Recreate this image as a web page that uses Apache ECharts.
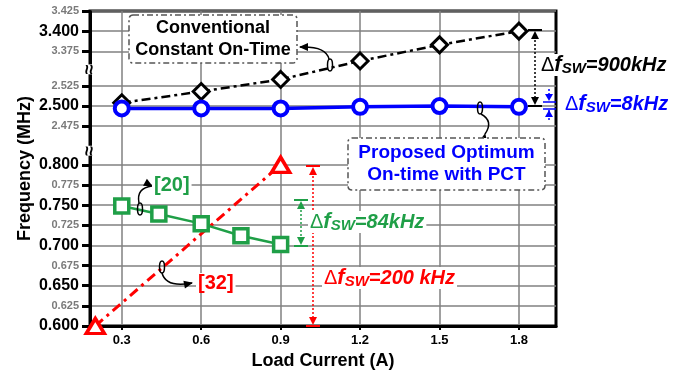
<!DOCTYPE html>
<html>
<head>
<meta charset="utf-8">
<script src="https://cdn.jsdelivr.net/npm/echarts@6.0.0/dist/echarts.min.js"></script>
<style>
html, body { margin: 0; padding: 0; background: #fff; }
#chart { width: 697px; height: 373px; }
</style>
</head>
<body>
<div id="chart"></div>
<script>
// axis ticks
const loadTicks = [0.3, 0.6, 0.9, 1.2, 1.5, 1.8]
const freqTicks = [0.6, 0.625, 0.65, 0.675, 0.7, 0.725, 0.75, 0.775, 0.8, 2.475, 2.5, 2.525, 3.375, 3.4, 3.425]
const boldTicks = [0.6, 0.65, 0.7, 0.75, 0.8, 2.5, 3.4]

// series (load current A / frequency MHz)
const convLoad = [0.3, 0.6, 0.9, 1.2, 1.5, 1.8]
const convFreq = [2.504, 2.518, 2.533, 3.363, 3.383, 3.4]
const propLoad = [0.3, 0.6, 0.9, 1.2, 1.5, 1.8]
const propFreq = [2.497, 2.497, 2.497, 2.499, 2.5, 2.499]
const ref20Load = [0.3, 0.44, 0.6, 0.75, 0.9]
const ref20Freq = [0.749, 0.739, 0.727, 0.712, 0.701]
const ref32Load = [0.2, 0.9]
const ref32Freq = [0.6, 0.8]

const F = '"Liberation Sans", Arial, sans-serif'
const BLUE = '#0000ff', GREEN = '#1f9f47', RED = '#ff0000'

function pairs(xs, ys) {
  return xs.map((x, i) => [x, ys[i]])
}
function isBold(v) {
  return boldTicks.some(b => Math.abs(b - v) < 1e-6)
}

let chart = echarts.init(document.getElementById('chart'))
chart.setOption({
  animation: false,
  grid: { left: 90, right: 141, top: 11, bottom: 47, outerBoundsMode: 'none', show: true, borderColor: '#000', borderWidth: 3, backgroundColor: 'transparent' },
  xAxis: {
    type: 'value', min: 0.18, max: 1.94,
    name: 'Load Current (A)', nameLocation: 'middle', nameGap: 26,
    nameTextStyle: { fontFamily: F, fontWeight: 'bold', fontSize: 18, color: '#000' },
    axisLine: { lineStyle: { color: '#000', width: 3 } },
    axisTick: { customValues: loadTicks, length: 4, lineStyle: { color: '#000', width: 2 } },
    axisLabel: { customValues: loadTicks, margin: 8, fontFamily: F, fontWeight: 'bold', fontSize: 13, color: '#000', formatter: v => v.toFixed(1) },
    splitLine: { show: true, lineStyle: { color: '#808080', width: 1.5 } }
  },
  yAxis: {
    type: 'value', min: 0.6, max: 3.425,
    breaks: [
      { start: 0.815, end: 2.446, gap: '1%' },
      { start: 2.543, end: 3.354, gap: '1%' }
    ],
    breakArea: { show: false },
    name: 'Frequency (MHz)', nameLocation: 'middle', nameGap: 56, nameMoveOverlap: false,
    nameTextStyle: { fontFamily: F, fontWeight: 'bold', fontSize: 18, color: '#000' },
    axisLine: { lineStyle: { color: '#000', width: 3 } },
    axisTick: { customValues: freqTicks, length: 8, lineStyle: { color: '#000', width: 3 } },
    axisLabel: {
      customValues: freqTicks, margin: 11,
      formatter: v => isBold(v) ? '{b|' + v.toFixed(3) + '}' : '{s|' + v.toFixed(3) + '}',
      rich: {
        b: { fontFamily: F, fontWeight: 'bold', fontSize: 16, color: '#000' },
        s: { fontFamily: F, fontWeight: 'bold', fontSize: 11, color: '#7a7a7a' }
      }
    },
    splitLine: { show: true, lineStyle: { color: '#808080', width: 1.5 } }
  },
  series: [
    {
      name: 'Conventional', type: 'line', data: pairs(convLoad, convFreq),
      symbol: 'diamond', symbolSize: 16,
      lineStyle: { color: '#000', width: 2.5, type: [9, 4, 3, 4] },
      itemStyle: { color: '#fff', borderColor: '#000', borderWidth: 3 }
    },
    {
      name: '[32]', type: 'line', data: pairs(ref32Load, ref32Freq),
      symbol: 'triangle', symbolSize: [18, 15],
      lineStyle: { color: RED, width: 3, type: [10, 5, 3, 5] },
      itemStyle: { color: '#fff', borderColor: RED, borderWidth: 3.5 }
    },
    {
      name: '[20]', type: 'line', data: pairs(ref20Load, ref20Freq),
      symbol: 'rect', symbolSize: 14,
      lineStyle: { color: GREEN, width: 2.5 },
      itemStyle: { color: '#fff', borderColor: GREEN, borderWidth: 3.5 }
    },
    {
      name: 'Proposed', type: 'line', data: pairs(propLoad, propFreq),
      symbol: 'circle', symbolSize: 14,
      lineStyle: { color: BLUE, width: 3.5 },
      itemStyle: { color: '#fff', borderColor: BLUE, borderWidth: 4 }
    }
  ]
})

// annotations
function deltaLabel(x, y, val, color) {
  let it = { fontFamily: F, fontStyle: 'italic', fontWeight: 'bold', fill: color }
  return {
    type: 'text', x: x, y: y, z: 60,
    style: {
      text: '{d|Δ}{f|f}{s|SW}{v|=' + val + '}',
      verticalAlign: 'middle', align: 'left',
      backgroundColor: '#fff', padding: [0, 2],
      rich: {
        d: { fontFamily: F, fontSize: 20, fill: color },
        f: Object.assign({ fontSize: 22 }, it),
        s: Object.assign({ fontSize: 15, verticalAlign: 'bottom' }, it),
        v: Object.assign({ fontSize: 20 }, it)
      }
    }
  }
}
function plainLabel(x, y, txt, color) {
  return {
    type: 'text', x: x, y: y, z: 60,
    style: { text: txt, fontFamily: F, fontWeight: 'bold', fontSize: 20, fill: color, verticalAlign: 'middle', backgroundColor: '#fff', padding: [0, 2] }
  }
}
function box(x1, y1, x2, y2, lines, color, size) {
  return [
    { type: 'rect', z: 55, shape: { x: x1, y: y1, width: x2 - x1, height: y2 - y1, r: 4 },
      style: { fill: '#fff', stroke: '#555', lineWidth: 1.5, lineDash: [6, 3, 2, 3] } },
    { type: 'text', z: 56, x: (x1 + x2) / 2, y: (y1 + y2) / 2,
      style: { text: lines.join('\n'), align: 'center', verticalAlign: 'middle', lineHeight: 22, fontFamily: F, fontWeight: 'bold', fontSize: size, fill: color } }
  ]
}
function dimArrow(x, y1, y2, color) {
  return [
    { type: 'line', z: 50, shape: { x1: x, y1: y1 + 6, x2: x, y2: y2 - 6 }, style: { stroke: color, lineWidth: 1.5, lineDash: [2, 2] } },
    { type: 'line', z: 50, shape: { x1: x - 7, y1: y1, x2: x + 7, y2: y1 }, style: { stroke: color, lineWidth: 2 } },
    { type: 'line', z: 50, shape: { x1: x - 7, y1: y2, x2: x + 7, y2: y2 }, style: { stroke: color, lineWidth: 2 } },
    { type: 'polygon', z: 50, shape: { points: [[x, y1 + 1], [x - 4, y1 + 9], [x + 4, y1 + 9]] }, style: { fill: color } },
    { type: 'polygon', z: 50, shape: { points: [[x, y2 - 1], [x - 4, y2 - 9], [x + 4, y2 - 9]] }, style: { fill: color } }
  ]
}
function curlArrow(ex, ey, sx, sy, cx, cy, tx, ty, ang) {
  return [
    { type: 'ellipse', z: 52, shape: { cx: ex, cy: ey, rx: 2.5, ry: 6 }, style: { fill: 'none', stroke: '#000', lineWidth: 1.5 } },
    { type: 'bezierCurve', z: 52, shape: { x1: sx, y1: sy, cpx1: cx, cpy1: cy, x2: tx, y2: ty }, style: { fill: 'none', stroke: '#000', lineWidth: 1.5 } },
    { type: 'polygon', z: 52, x: tx, y: ty, rotation: ang, shape: { points: [[-1, 0], [8, -4], [8, 4]] }, style: { fill: '#000' } }
  ]
}

let yb1 = chart.convertToPixel({ yAxisIndex: 0 }, 0.815)
let yb2 = chart.convertToPixel({ yAxisIndex: 0 }, 2.543)
let breakMark = y => ({
  type: 'text', z: 70, x: 90, y: y - 2, rotation: Math.PI / 2,
  style: { text: '≈', fontFamily: F, fontWeight: 'bold', fontSize: 18, fill: '#000', align: 'center', verticalAlign: 'middle', backgroundColor: '#fff' }
})

let elements = [].concat(
  box(129, 15, 297, 63, ['Conventional', 'Constant On-Time'], '#000', 18),
  box(348, 138, 545, 190, ['Proposed Optimum', 'On-time with PCT'], BLUE, 19),
  curlArrow(330, 65, 329, 59, 326, 46, 300, 47, 0),
  curlArrow(480, 108, 481, 114, 494, 121, 485, 134, -Math.PI / 2 - 0.2),
  curlArrow(140, 209, 139, 203, 136, 188, 152, 186, Math.PI - 0.5),
  curlArrow(162, 267, 162, 273, 166, 288, 192, 283, Math.PI + 0.2),
  dimArrow(535, 30, 106, '#000'),
  dimArrow(301, 200, 246, GREEN),
  dimArrow(313, 166, 326, RED),
  [
    { type: 'line', z: 50, shape: { x1: 543, y1: 102, x2: 556, y2: 102 }, style: { stroke: BLUE, lineWidth: 1.5 } },
    { type: 'line', z: 50, shape: { x1: 543, y1: 109, x2: 556, y2: 109 }, style: { stroke: BLUE, lineWidth: 1.5 } },
    { type: 'line', z: 50, shape: { x1: 549, y1: 89, x2: 549, y2: 101 }, style: { stroke: BLUE, lineWidth: 1.5, lineDash: [2, 2] } },
    { type: 'line', z: 50, shape: { x1: 549, y1: 110, x2: 549, y2: 122 }, style: { stroke: BLUE, lineWidth: 1.5, lineDash: [2, 2] } },
    { type: 'polygon', z: 50, shape: { points: [[549, 101], [545, 94], [553, 94]] }, style: { fill: BLUE } },
    { type: 'polygon', z: 50, shape: { points: [[549, 110], [545, 117], [553, 117]] }, style: { fill: BLUE } }
  ],
  [
    deltaLabel(539, 65, '900kHz', '#000'),
    deltaLabel(563, 104, '8kHz', BLUE),
    deltaLabel(308, 222, '84kHz', GREEN),
    deltaLabel(322, 278, '200 kHz', RED),
    plainLabel(152, 185, '[20]', GREEN),
    plainLabel(196, 283, '[32]', RED),
    breakMark(yb1),
    breakMark(yb2)
  ]
)
chart.setOption({ graphic: { elements: elements } })
</script>
</body>
</html>
